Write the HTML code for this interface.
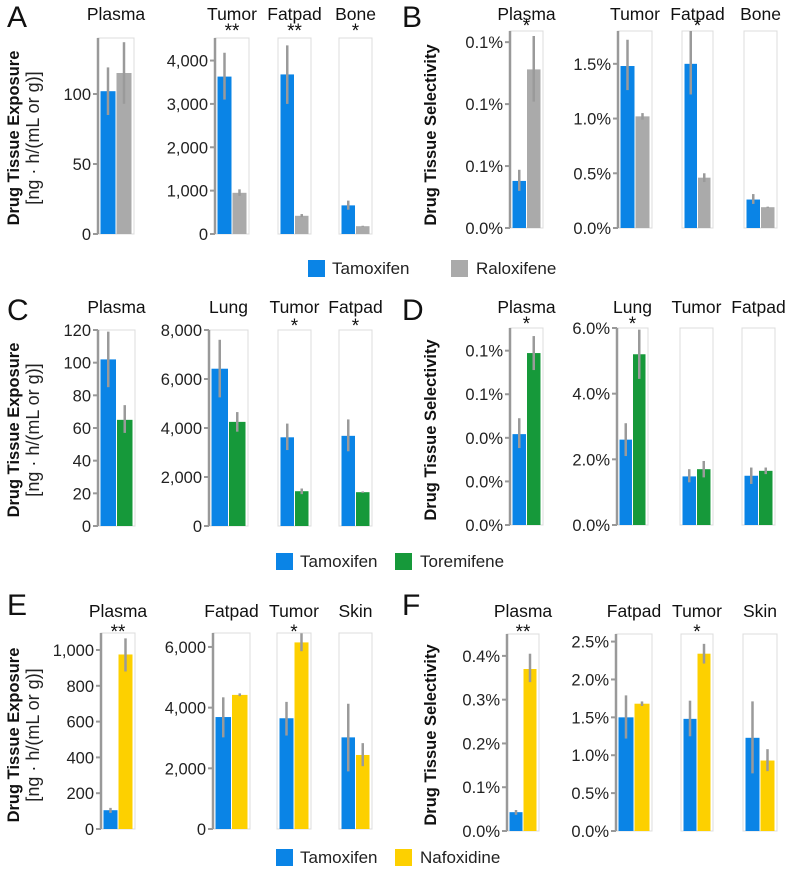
<!DOCTYPE html>
<html><head><meta charset="utf-8">
<style>
html,body{margin:0;padding:0;background:#fff;}
svg{display:block;font-family:"Liberation Sans",Arial,sans-serif;}
</style></head>
<body>
<svg id="fig" width="789" height="877" viewBox="0 0 789 877"></svg>
<script>
// ===== Data =====
const A_cats=["Plasma","Tumor","Fatpad","Bone"];
const A_tam=[102,3630,3680,660];
const A_tamLo=[85,3100,3000,560];
const A_tamHi=[119,4180,4350,770];
const A_cmp=[115,950,420,180];
const A_cmpLo=[93,880,390,170];
const A_cmpHi=[137,1030,460,190];
const A_sig=["","**","**","*"];
const A_ticks1=[0,50,100];
const A_ticks2=[0,1000,2000,3000,4000];

const B_cats=["Plasma","Tumor","Fatpad","Bone"];
const B_tam=[0.038,1.48,1.50,0.26];
const B_tamLo=[0.030,1.26,1.22,0.22];
const B_tamHi=[0.047,1.72,1.80,0.31];
const B_cmp=[0.128,1.02,0.46,0.19];
const B_cmpLo=[0.102,0.99,0.42,0.185];
const B_cmpHi=[0.155,1.05,0.50,0.195];
const B_sig=["*","","*",""];
const B_ticks1=[0,0.05,0.10,0.15];
const B_ticks2=[0,0.5,1.0,1.5];

const C_cats=["Plasma","Lung","Tumor","Fatpad"];
const C_tam=[102,6420,3620,3680];
const C_tamLo=[85,5250,3100,3050];
const C_tamHi=[119,7600,4180,4350];
const C_cmp=[65,4250,1420,1380];
const C_cmpLo=[57,3850,1300,1350];
const C_cmpHi=[74,4650,1530,1410];
const C_sig=["","","*","*"];
const C_ticks1=[0,20,40,60,80,100,120];
const C_ticks2=[0,2000,4000,6000,8000];

const D_cats=["Plasma","Lung","Tumor","Fatpad"];
const D_tam=[0.0417,2.6,1.48,1.5];
const D_tamLo=[0.0353,2.1,1.3,1.25];
const D_tamHi=[0.049,3.1,1.7,1.75];
const D_cmp=[0.0789,5.2,1.7,1.65];
const D_cmpLo=[0.0711,4.45,1.45,1.55];
const D_cmpHi=[0.0867,5.95,1.95,1.75];
const D_sig=["*","*","",""];
const D_ticks1=[0,0.02,0.04,0.06,0.08];
const D_ticks2=[0,2,4,6];

const E_cats=["Plasma","Fatpad","Tumor","Skin"];
const E_tam=[105,3690,3650,3020];
const E_tamLo=[90,3020,3080,1900];
const E_tamHi=[118,4340,4190,4130];
const E_cmp=[975,4420,6150,2440];
const E_cmpLo=[880,4380,5860,2070];
const E_cmpHi=[1065,4470,6450,2830];
const E_sig=["**","","*",""];
const E_ticks1=[0,200,400,600,800,1000];
const E_ticks2=[0,2000,4000,6000];

const F_cats=["Plasma","Fatpad","Tumor","Skin"];
const F_tam=[0.043,1.5,1.48,1.23];
const F_tamLo=[0.037,1.22,1.25,0.76];
const F_tamHi=[0.048,1.79,1.72,1.71];
const F_cmp=[0.37,1.68,2.34,0.93];
const F_cmpLo=[0.34,1.65,2.21,0.79];
const F_cmpHi=[0.405,1.71,2.47,1.08];
const F_sig=["**","","*",""];
const F_ticks1=[0,0.1,0.2,0.3,0.4];
const F_ticks2=[0,0.5,1.0,1.5,2.0,2.5];

// ===== Rendering =====
const NS="http://www.w3.org/2000/svg";
const svg=document.getElementById('fig');
function mk(tag,attrs,parent){const e=document.createElementNS(NS,tag);for(const k in attrs)e.setAttribute(k,attrs[k]);(parent||svg).appendChild(e);return e;}
const BLUE="#0a84e6";
const fmtNum=v=>v.toLocaleString('en-US');
const fmtPct=v=>v.toFixed(1)+"%";

function drawPanel(p){
  const g=mk('g',{});
  
  
  const L=mk('text',{x:p.lx,y:p.ly,'font-size':30,fill:'#111'},g);L.textContent=p.letter;
  
  
  const t=mk('text',{x:0,y:0,'font-size':16.5,'font-weight':'bold',fill:'#111','text-anchor':'middle',transform:`translate(${p.tx},${p.ty}) rotate(-90)`},g);
  t.textContent=p.title;
  
  
  if(p.sub){const s=mk('text',{x:0,y:0,'font-size':18,fill:'#222','text-anchor':'middle',transform:`translate(${p.tx+20},${p.ty}) rotate(-90)`},g);s.textContent=p.sub;
    
    }
  p.boxes.forEach((b,i)=>{
    const sc=p.scales[b.s];
    const y=v=>p.bot-(v/sc.max)*(p.bot-p.top);
    const fg=mk('g',{},g);
    
    
    mk('rect',{x:b.x0,y:p.top,width:b.x1-b.x0,height:p.bot-p.top,fill:'#fff',stroke:'#dcdcdc','stroke-width':1},fg);
    const w=b.x1-b.x0, bw=w/2-3;
    const xs=[b.x0+2.5,b.x0+w/2+0.5];
    const vals=[[p.tam[i],p.tamLo[i],p.tamHi[i],BLUE],[p.cmp[i],p.cmpLo[i],p.cmpHi[i],p.color]];
    vals.forEach((v,j)=>{
      const r=mk('rect',{x:xs[j],y:y(v[0]),width:bw,height:p.bot-y(v[0]),fill:v[3]},fg);
      
      
      const cx=xs[j]+bw/2;
      const e=mk('line',{x1:cx,x2:cx,y1:y(v[1]),y2:y(Math.min(v[2],sc.max)),stroke:'#9a9a9a','stroke-width':2.5},fg);
      
      
    });
    if(b.axis){
      const ax=mk('g',{},fg);
      
      
      mk('line',{x1:b.x0,x2:b.x0,y1:p.top,y2:p.bot,stroke:'#999','stroke-width':2.5},ax);
      sc.ticks.forEach(tv=>{
        mk('line',{x1:b.x0-5,x2:b.x0,y1:y(tv),y2:y(tv),stroke:'#999','stroke-width':2},ax);
        const tl=mk('text',{x:b.x0-7,y:y(tv)+6,'font-size':16.5,fill:'#222','text-anchor':'end'},ax);
        tl.textContent=sc.fmt(tv);
        
        
      });
    }
    const cl=mk('text',{x:(b.x0+b.x1)/2,y:p.cy,'font-size':17.5,fill:'#111','text-anchor':'middle'},fg);
    cl.textContent=p.cats[i];
    
    
    if(p.sig[i]){const st=mk('text',{x:(b.x0+b.x1)/2,y:p.sy,'font-size':19,fill:'#111','text-anchor':'middle'},fg);st.textContent=p.sig[i];
      
      }
  });
}
function legend(y,name,color,x1,x2,tag){
  const g=mk('g',{});
  
  
  mk('rect',{x:x1,y:y-8,width:17,height:17,fill:BLUE},g);
  const a=mk('text',{x:x1+24,y:y+6,'font-size':17,fill:'#222'},g);a.textContent="Tamoxifen";
  
  
  mk('rect',{x:x2,y:y-8,width:17,height:17,fill:color},g);
  const b=mk('text',{x:x2+25,y:y+6,'font-size':17,fill:'#222'},g);b.textContent=name;
  
  
}
const EXP="Drug Tissue Exposure", SUB="[ng · h/(mL or g)]", SEL="Drug Tissue Selectivity";
const GRAY="#aaaaaa", GREEN="#16993a", YEL="#fdd000";

drawPanel({letter:'A',lx:7,ly:27,title:EXP,sub:SUB,tx:19,ty:138,top:38,bot:234,cy:20,sy:37,color:GRAY,
 cats:A_cats,tam:A_tam,tamLo:A_tamLo,tamHi:A_tamHi,cmp:A_cmp,cmpLo:A_cmpLo,cmpHi:A_cmpHi,sig:A_sig,
 scales:[{max:140,ticks:A_ticks1,fmt:fmtNum},{max:4520,ticks:A_ticks2,fmt:fmtNum}],
 boxes:[{x0:98,x1:134,s:0,axis:1},{x0:215,x1:249,s:1,axis:1},{x0:278,x1:311,s:1},{x0:339,x1:372,s:1}]});
drawPanel({letter:'B',lx:402,ly:27,title:SEL,tx:436,ty:135,top:31,bot:228,cy:20,sy:32,color:GRAY,
 cats:B_cats,tam:B_tam,tamLo:B_tamLo,tamHi:B_tamHi,cmp:B_cmp,cmpLo:B_cmpLo,cmpHi:B_cmpHi,sig:B_sig,
 scales:[{max:0.159,ticks:B_ticks1,fmt:fmtPct},{max:1.8,ticks:B_ticks2,fmt:fmtPct}],
 boxes:[{x0:510,x1:543,s:0,axis:1},{x0:618,x1:652,s:1,axis:1},{x0:682,x1:713,s:1},{x0:744,x1:777,s:1}]});
legend(268,"Raloxifene",GRAY,308,451,'1');

drawPanel({letter:'C',lx:7,ly:320,title:EXP,sub:SUB,tx:19,ty:430,top:330,bot:526,cy:313,sy:332,color:GREEN,
 cats:C_cats,tam:C_tam,tamLo:C_tamLo,tamHi:C_tamHi,cmp:C_cmp,cmpLo:C_cmpLo,cmpHi:C_cmpHi,sig:C_sig,
 scales:[{max:120,ticks:C_ticks1,fmt:fmtNum},{max:8000,ticks:C_ticks2,fmt:fmtNum}],
 boxes:[{x0:98,x1:135,s:0,axis:1},{x0:209,x1:248,s:1,axis:1},{x0:278,x1:311,s:1},{x0:339,x1:372,s:1}]});
drawPanel({letter:'D',lx:402,ly:320,title:SEL,tx:436,ty:430,top:328,bot:525,cy:313,sy:330,color:GREEN,
 cats:D_cats,tam:D_tam,tamLo:D_tamLo,tamHi:D_tamHi,cmp:D_cmp,cmpLo:D_cmpLo,cmpHi:D_cmpHi,sig:D_sig,
 scales:[{max:0.0904,ticks:D_ticks1,fmt:fmtPct},{max:6,ticks:D_ticks2,fmt:fmtPct}],
 boxes:[{x0:510,x1:543,s:0,axis:1},{x0:617,x1:648,s:1,axis:1},{x0:680,x1:713,s:1},{x0:742,x1:775,s:1}]});
legend(561,"Toremifene",GREEN,276,395,'2');

drawPanel({letter:'E',lx:7,ly:615,title:EXP,sub:SUB,tx:19,ty:735,top:633,bot:829,cy:617,sy:638,color:YEL,
 cats:E_cats,tam:E_tam,tamLo:E_tamLo,tamHi:E_tamHi,cmp:E_cmp,cmpLo:E_cmpLo,cmpHi:E_cmpHi,sig:E_sig,
 scales:[{max:1095,ticks:E_ticks1,fmt:fmtNum},{max:6460,ticks:E_ticks2,fmt:fmtNum}],
 boxes:[{x0:101,x1:135,s:0,axis:1},{x0:213,x1:250,s:1,axis:1},{x0:277,x1:311,s:1},{x0:339,x1:372,s:1}]});
drawPanel({letter:'F',lx:402,ly:615,title:SEL,tx:436,ty:735,top:634,bot:831,cy:617,sy:638,color:YEL,
 cats:F_cats,tam:F_tam,tamLo:F_tamLo,tamHi:F_tamHi,cmp:F_cmp,cmpLo:F_cmpLo,cmpHi:F_cmpHi,sig:F_sig,
 scales:[{max:0.45,ticks:F_ticks1,fmt:fmtPct},{max:2.6,ticks:F_ticks2,fmt:fmtPct}],
 boxes:[{x0:507,x1:539,s:0,axis:1},{x0:616,x1:652,s:1,axis:1},{x0:681,x1:713,s:1},{x0:743,x1:777,s:1}]});
legend(857,"Nafoxidine",YEL,276,395,'3');
</script>
</body></html>
